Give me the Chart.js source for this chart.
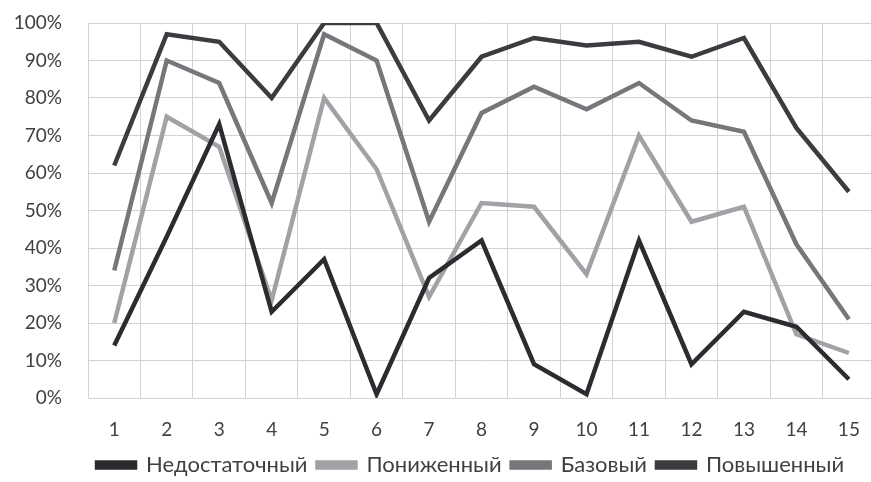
<!DOCTYPE html>
<html lang="ru">
<head>
<meta charset="utf-8">
<title>Уровни</title>
<script src="https://cdn.jsdelivr.net/npm/chart.js@4/dist/chart.umd.min.js"></script>
<style>
  html, body { margin: 0; padding: 0; background: #fff; overflow: hidden; }
  #wrap { position: relative; width: 880px; height: 482px; }
</style>
</head>
<body>
<div id="wrap"><canvas id="grafico"></canvas></div>
<script>
// Данные (в процентах)
const categorias = ['1', '2', '3', '4', '5', '6', '7', '8', '9', '10', '11', '12', '13', '14', '15'];
const nedostatochny = [14, 43, 73, 23, 37, 1, 32, 42, 9, 1, 42, 9, 23, 19, 5];
const ponizhenny = [20, 75, 67, 26, 80, 61, 27, 52, 51, 33, 70, 47, 51, 17, 12];
const bazovy = [34, 90, 84, 52, 97, 90, 47, 76, 83, 77, 84, 74, 71, 41, 21];
const povyshenny = [62, 97, 95, 80, 100, 100, 74, 91, 96, 94, 95, 91, 96, 72, 55];
const yTicks = [0, 10, 20, 30, 40, 50, 60, 70, 80, 90, 100];

const FONT = 'Lato, "Open Sans", sans-serif';
const gridColor = '#d2d2d2';

function serie(label, data, color) {
  return {
    label: label,
    data: data,
    borderColor: color,
    backgroundColor: color,
    borderWidth: 4.5,
    pointRadius: 0,
    tension: 0,
    borderJoinStyle: 'miter'
  };
}

// Легенда в оригинале центрирована по области графика, а не по всему холсту
const moverLeyenda = {
  id: 'moverLeyenda',
  afterLayout(chart) {
    const l = chart.legend;
    if (!l) return;
    const shift = (chart.chartArea.left + chart.chartArea.right) / 2 - (l.left + l.right) / 2 - 11;
    l.left += shift;
    l.right += shift;
  }
};

const ctx = document.getElementById('grafico').getContext('2d');

new Chart(ctx, {
  type: 'line',
  data: {
    labels: categorias,
    datasets: [
      serie('Недостаточный', nedostatochny, '#2b2b30'),
      serie('Пониженный', ponizhenny, '#a2a2a6'),
      serie('Базовый', bazovy, '#77777b'),
      serie('Повышенный', povyshenny, '#3c3c40')
    ]
  },
  plugins: [moverLeyenda],
  options: {
    responsive: true,
    maintainAspectRatio: false,
    animation: false,
    layout: { padding: { top: 23, right: 3, bottom: -4, left: 0 } },
    plugins: {
      tooltip: { enabled: false },
      legend: {
        display: true,
        position: 'bottom',
        labels: {
          font: { family: FONT, size: 22 },
          color: '#404040',
          boxWidth: 38,
          boxHeight: 5,
          padding: 10
        }
      }
    },
    scales: {
      x: {
        offset: true,
        grid: { offset: true, color: gridColor, drawTicks: false },
        border: { color: gridColor },
        ticks: { font: { family: FONT, size: 19 }, color: '#404040', padding: 20 },
        afterFit: s => { s.height = 46; }
      },
      y: {
        min: 0,
        max: 100,
        afterBuildTicks: s => { s.ticks = yTicks.map(v => ({ value: v })); },
        grid: { color: gridColor, drawTicks: false },
        border: { color: gridColor },
        ticks: {
          font: { family: FONT, size: 19 },
          color: '#404040',
          padding: 26,
          callback: v => v + '%'
        },
        afterFit: s => {
          s.width = 88;
          // отступ подписей не должен сдвигать верх области графика
          s.paddingTop = 12;
          s.paddingBottom = 12;
        }
      }
    }
  }
});
</script>
</body>
</html>
